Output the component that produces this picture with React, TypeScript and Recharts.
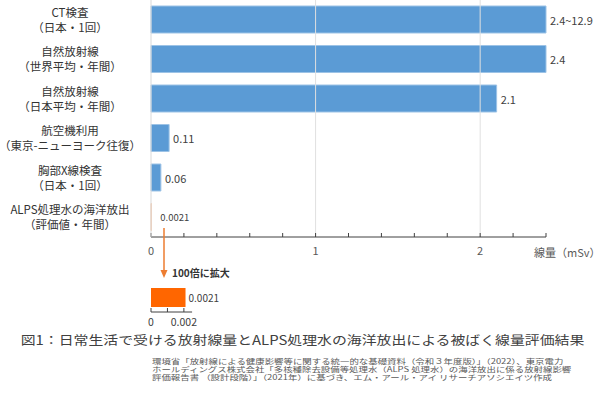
import React from 'react';
import {
    BarChart,
    Bar,
    XAxis,
    YAxis,
    Cell,
    LabelList,
    ReferenceLine,
} from 'recharts';

const FONT = "'Noto Sans CJK JP', 'Noto Sans', sans-serif";

// categories (two lines each)
const names = ['CT検査', '自然放射線', '自然放射線', '航空機利用', '胸部X線検査', 'ALPS処理水の海洋放出'];
const subNames = ['（日本・1回）', '（世界平均・年間）', '（日本平均・年間）', '（東京-ニューヨーク往復）', '（日本・1回）', '（評価値・年間）'];
// dose values (mSv)
const doses = [2.4, 2.4, 2.1, 0.11, 0.06, 0.0021];
const doseLabels = ['2.4~12.9', '2.4', '2.1', '0.11', '0.06', '0.0021'];

const mainTicks = [0, 0.2, 0.4, 0.6, 0.8, 1, 1.2, 1.4, 1.6, 1.8, 2, 2.2, 2.4];
const insetTicks = [0, 0.001, 0.002];

const data = names.map((n, i) => ({
    key: n + '\n' + subNames[i],
    value: doses[i],
    label: doseLabels[i],
}));

const insetData = [{ key: 'ALPS', value: doses[5], label: doseLabels[5] }];

const CategoryTick = (props: any) => {
    const { x, y, payload } = props;
    const [l1, l2] = String(payload.value).split('\n');
    return (
        <text x={x - 73} y={y} textAnchor="middle" fontSize={11.5} fill="#333" fontFamily={FONT}>
            <tspan x={x - 73} dy={-3}>{l1}</tspan>
            <tspan x={x - 73} dy={15}>{l2}</tspan>
        </text>
    );
};

const BarLabel = (props: any) => {
    const { x, y, width, height, value } = props;
    const small = value === doseLabels[5];
    return (
        <text
            x={x + width + (small ? 9 : 4)}
            y={y + height / 2}
            dominantBaseline="central"
            fontSize={small ? 9.5 : 11}
            fill="#404040"
            fontFamily={FONT}
        >
            {value}
        </text>
    );
};

export default function App() {
    return (
        <div style={{ position: 'absolute', left: 0, top: 0, width: 605, height: 395, background: '#fff', fontFamily: FONT, overflow: 'hidden' }}>
            <BarChart
                width={605}
                height={262}
                data={data}
                layout="vertical"
                margin={{ top: 0, right: 59, bottom: 0, left: 0 }}
                barSize={27}
            >
                <XAxis
                    type="number"
                    domain={[0, 2.4]}
                    ticks={mainTicks}
                    interval={0}
                    tickFormatter={(v: number) => (Number.isInteger(v) ? String(v) : '')}
                    axisLine={{ stroke: '#404040' }}
                    tickLine={{ stroke: '#404040' }}
                    tickSize={-4}
                    tickMargin={14}
                    height={25}
                    tick={{ fontSize: 11, fill: '#595959', fontFamily: FONT }}
                />
                <YAxis
                    type="category"
                    dataKey="key"
                    width={151}
                    interval={0}
                    axisLine={{ stroke: '#d9d9d9' }}
                    tickLine={false}
                    tick={<CategoryTick />}
                />
                <ReferenceLine x={1} stroke="#e0e0e0" />
                <ReferenceLine x={2} stroke="#e0e0e0" />
                <Bar dataKey="value" fill="#5B9BD5" stroke="#9DC3E6" isAnimationActive={false}>
                    {data.map((d, i) => (
                        <Cell key={i} fill={i === 5 ? '#FF6600' : '#5B9BD5'} stroke={i === 5 ? '#F8CBAD' : '#9DC3E6'} />
                    ))}
                    <LabelList dataKey="label" content={<BarLabel />} />
                </Bar>
            </BarChart>

            <div style={{ position: 'absolute', left: 534, top: 244, fontSize: 11, color: '#595959', whiteSpace: 'nowrap' }}>
                線量（mSv）
            </div>

            <svg style={{ position: 'absolute', left: 0, top: 0 }} width={605} height={300}>
                <line x1={164} y1={228} x2={164} y2={271} stroke="#ED7D31" strokeWidth={1.5} />
                <polygon points="160.5,270 167.5,270 164,278" fill="#ED7D31" />
            </svg>
            <div style={{ position: 'absolute', left: 172, top: 265, fontSize: 10, fontWeight: 600, color: '#333', whiteSpace: 'nowrap' }}>
                100倍に拡大
            </div>

            <div style={{ position: 'absolute', left: 0, top: 282 }}>
                <BarChart
                    width={240}
                    height={50}
                    data={insetData}
                    layout="vertical"
                    margin={{ top: 0, right: 47.9, bottom: 0, left: 151 }}
                    barSize={19}
                >
                    <XAxis
                        type="number"
                        domain={[0, 0.0025]}
                        ticks={insetTicks}
                        interval={0}
                        tickFormatter={(v: number) => (v === 0 ? '0' : v === 0.002 ? '0.002' : '')}
                        axisLine={{ stroke: '#404040' }}
                        tickLine={{ stroke: '#404040' }}
                        tickSize={-4}
                        tickMargin={11}
                        height={20}
                        tick={{ fontSize: 10.5, fill: '#404040', fontFamily: FONT }}
                    />
                    <YAxis type="category" dataKey="key" hide />
                    <Bar dataKey="value" fill="#FF6600" isAnimationActive={false}>
                        <LabelList
                            dataKey="label"
                            content={(p: any) => (
                                <text
                                    x={p.x + p.width + 3}
                                    y={p.y + p.height / 2}
                                    dominantBaseline="central"
                                    fontSize={10}
                                    fill="#404040"
                                    fontFamily={FONT}
                                >
                                    {p.value}
                                </text>
                            )}
                        />
                    </Bar>
                </BarChart>
            </div>

            <div
                style={{
                    position: 'absolute',
                    left: 0,
                    top: 333,
                    width: 605,
                    textAlign: 'center',
                    fontSize: 12.5,
                    lineHeight: '14px',
                    color: '#404040',
                    whiteSpace: 'nowrap',
                    transform: 'scaleX(1.19)',
                    transformOrigin: '302.5px 0',
                }}
            >
                図1：日常生活で受ける放射線量とALPS処理水の海洋放出による被ばく線量評価結果
            </div>

            <div
                style={{
                    position: 'absolute',
                    left: 152,
                    top: 356.5,
                    fontSize: 7.2,
                    lineHeight: '8px',
                    color: '#595959',
                    whiteSpace: 'nowrap',
                    transform: 'scaleX(1.31)',
                    transformOrigin: '0 0',
                }}
            >
                <div>環境省「放射線による健康影響等に関する統一的な基礎資料（令和３年度版）」（2022）、東京電力</div>
                <div>ホールディングス株式会社「多核種除去設備等処理水（ALPS 処理水）の海洋放出に係る放射線影響</div>
                <div>評価報告書 （設計段階）」（2021年）に基づき、エム・アール・アイ リサーチアソシエイツ作成</div>
            </div>
        </div>
    );
}
